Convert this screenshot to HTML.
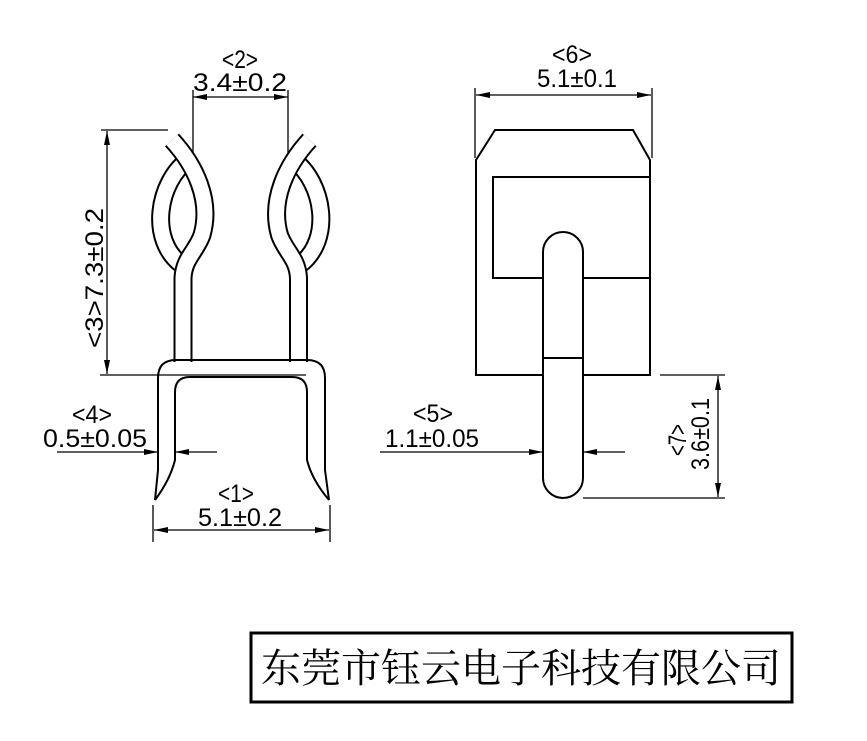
<!DOCTYPE html>
<html><head><meta charset="utf-8"><style>
html,body{margin:0;padding:0;background:#fff;}
svg{display:block;}
text{font-family:"Liberation Sans",sans-serif;fill:#000;}
</style></head><body>
<svg width="867" height="741" viewBox="0 0 867 741" xmlns="http://www.w3.org/2000/svg">
<g fill="none" stroke="#000" stroke-width="1.3">
<line x1="193" y1="97" x2="288" y2="97"/>
<line x1="193" y1="90" x2="193" y2="160"/>
<line x1="288" y1="90" x2="288" y2="158"/>
<line x1="107" y1="131" x2="107" y2="374"/>
<line x1="101" y1="130" x2="168" y2="130"/>
<line x1="100" y1="375" x2="306" y2="375"/>
<line x1="57" y1="452" x2="158" y2="452"/>
<line x1="217" y1="452" x2="175" y2="452"/>
<line x1="154" y1="530" x2="329" y2="530"/>
<line x1="153" y1="505" x2="153" y2="542"/>
<line x1="330" y1="505" x2="330" y2="542"/>
<line x1="476" y1="95" x2="651" y2="95"/>
<line x1="475" y1="88" x2="475" y2="158"/>
<line x1="652" y1="88" x2="652" y2="158"/>
<line x1="380" y1="452" x2="543" y2="452"/>
<line x1="625" y1="452" x2="583" y2="452"/>
<line x1="718" y1="376" x2="718" y2="497"/>
<line x1="660" y1="375" x2="725" y2="375"/>
<line x1="583" y1="498" x2="725" y2="498"/>
</g>
<g fill="#000">
<polygon points="193,97 207,94 207,100"/>
<polygon points="288,97 274,94 274,100"/>
<polygon points="107,131 104,145 110,145"/>
<polygon points="107,374 104,360 110,360"/>
<polygon points="158,452 144,449 144,455"/>
<polygon points="175,452 189,449 189,455"/>
<polygon points="154,530 168,527 168,533"/>
<polygon points="329,530 315,527 315,533"/>
<polygon points="476,95 490,92 490,98"/>
<polygon points="651,95 637,92 637,98"/>
<polygon points="543,452 529,449 529,455"/>
<polygon points="583,452 597,449 597,455"/>
<polygon points="718,376 715,390 721,390"/>
<polygon points="718,497 715,483 721,483"/>
</g>
<g fill="none" stroke-linecap="butt">
<g id="clip">
<path d="M188,160 C158,182 148,240 182,265" stroke="#000" stroke-width="19"/>
<path d="M188,160 C158,182 148,240 182,265" stroke="#fff" stroke-width="15"/>
<path d="M172,140 C195,165 212,200 202,235 C196,252 184,258 183,278 L183,362" stroke="#000" stroke-width="19"/>
<path d="M172,140 C195,165 212,200 202,235 C196,252 184,258 183,278 L183,364" stroke="#fff" stroke-width="15"/>
</g>
<use href="#clip" transform="translate(481.5,0) scale(-1,1)"/>
</g>
<path d="M155,500 L158,470 L158,378 Q158,360 176,360 L307,360 Q325,360 325,378 L325,470 L329,500" fill="none" stroke="#000" stroke-width="2"/>
<path d="M155,500 Q170,480 175,460 L175,392 Q175,377 190,377 L292,377 Q307,377 307,392 L307,460 Q312,480 329,500" fill="none" stroke="#000" stroke-width="2"/>
<path d="M476,160 L495,130 L633,130 L650,160 L650,375 L476,375 Z" fill="none" stroke="#000" stroke-width="2"/>
<path d="M543,278 L493,278 L493,177 L650,177" fill="none" stroke="#000" stroke-width="2"/>
<line x1="583" y1="278" x2="650" y2="278" stroke="#000" stroke-width="2"/>
<rect x="543" y="232" width="40" height="266" rx="20" fill="#fff" stroke="#000" stroke-width="2"/>
<line x1="543" y1="358" x2="583" y2="358" stroke="#000" stroke-width="2"/>
<g font-size="25" text-anchor="middle">
<text x="240" y="68" textLength="36" lengthAdjust="spacingAndGlyphs">&lt;2&gt;</text>
<text x="240" y="91" textLength="94" lengthAdjust="spacingAndGlyphs">3.4±0.2</text>
<text x="92" y="423" textLength="40" lengthAdjust="spacingAndGlyphs">&lt;4&gt;</text>
<text x="95" y="447" textLength="104" lengthAdjust="spacingAndGlyphs">0.5±0.05</text>
<text x="236" y="502" textLength="36" lengthAdjust="spacingAndGlyphs">&lt;1&gt;</text>
<text x="240" y="526" textLength="84" lengthAdjust="spacingAndGlyphs">5.1±0.2</text>
<text x="572" y="63" textLength="40" lengthAdjust="spacingAndGlyphs">&lt;6&gt;</text>
<text x="577" y="87" textLength="80" lengthAdjust="spacingAndGlyphs">5.1±0.1</text>
<text x="433" y="422" textLength="40" lengthAdjust="spacingAndGlyphs">&lt;5&gt;</text>
<text x="432" y="447" textLength="94" lengthAdjust="spacingAndGlyphs">1.1±0.05</text>
<text transform="translate(103,278) rotate(-90)" textLength="140" lengthAdjust="spacingAndGlyphs">&lt;3&gt;7.3±0.2</text>
<text transform="translate(686,440) rotate(-90)" textLength="32" lengthAdjust="spacingAndGlyphs">&lt;7&gt;</text>
<text transform="translate(709,434) rotate(-90)" textLength="72" lengthAdjust="spacingAndGlyphs">3.6±0.1</text>
</g>
<rect x="251" y="633" width="541" height="69" fill="none" stroke="#000" stroke-width="3"/>
<text x="521" y="682" text-anchor="middle" font-size="40" style="font-family:'Liberation Serif','Noto Serif CJK SC',serif">东莞市钰云电子科技有限公司</text>
</svg>
</body></html>
